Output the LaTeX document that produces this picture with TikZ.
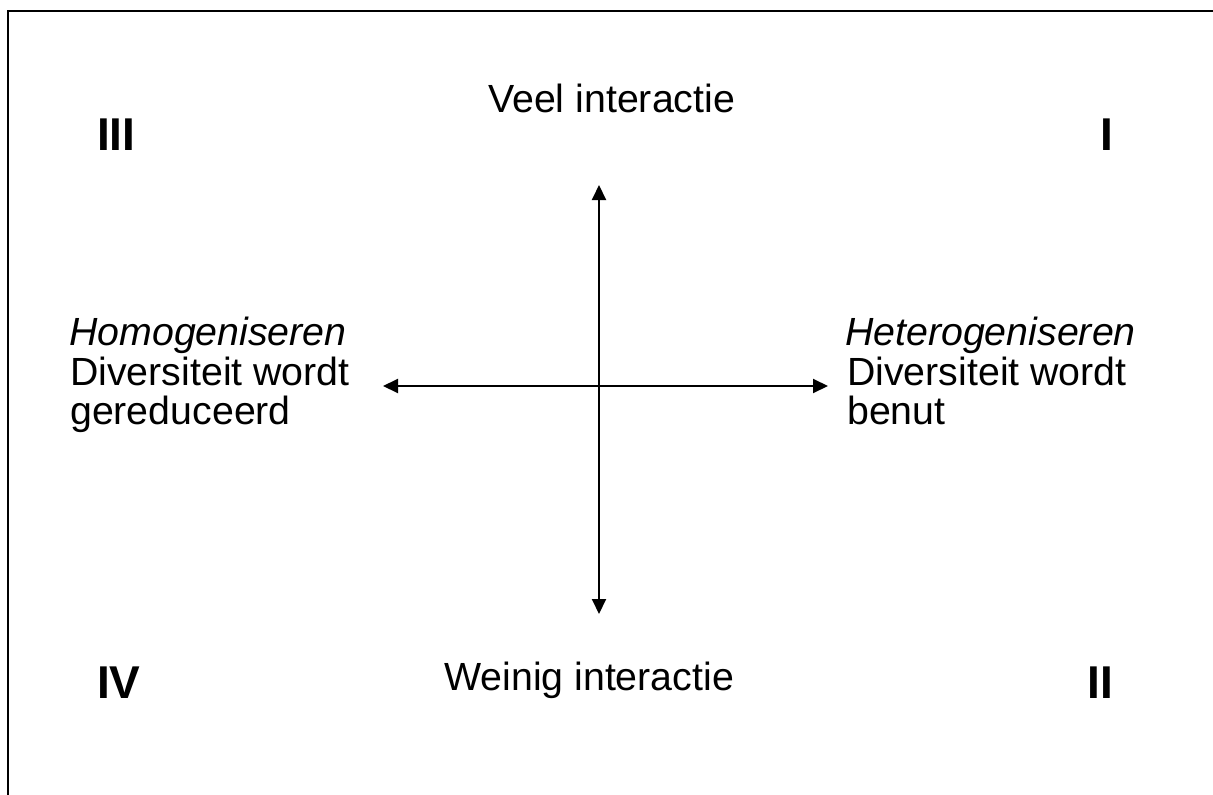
\documentclass[tikz,border=0pt]{standalone}
\usepackage{fontspec}
\setmainfont{Liberation Sans}
\usetikzlibrary{arrows.meta}
\begin{document}
\begin{tikzpicture}[x=1pt,y=-1pt,
  lbl/.style={inner sep=0pt,anchor=base west,font=\fontsize{39.3}{40}\selectfont},
  num/.style={inner sep=0pt,anchor=base west,font=\fontsize{46}{50}\selectfont\bfseries},
  axis/.style={line width=2pt,{Triangle[length=15pt,width=14pt]}-{Triangle[length=15pt,width=14pt]}},
  frameline/.style={line width=2pt}]
\useasboundingbox (0,0) rectangle (1213,795);
% frame (left and top only)
\coordinate (fbl) at (8,795);
\coordinate (ftl) at (8,11);
\coordinate (ftr) at (1213,11);
\draw[frameline] (fbl) -- (ftl) -- (ftr);
% axes
\coordinate (vtop) at (599,185);
\coordinate (vbot) at (599,614);
\coordinate (hleft) at (383,386);
\coordinate (hright) at (828,386);
\draw[axis] (vbot) -- (vtop);
\draw[axis] (hleft) -- (hright);
% labels
\node[lbl] (veel) at (488,112) {Veel interactie};
\node[lbl] (weinig) at (444,690) {Weinig interactie};
\node[lbl] (homT) at (69,345) {\itshape Homogeniseren};
\node[lbl] (homA) at (70,385) {Diversiteit wordt};
\node[lbl] (homB) at (70,424) {gereduceerd};
\node[lbl] (hetT) at (845,345) {\itshape Heterogeniseren};
\node[lbl] (hetA) at (847,385) {Diversiteit wordt};
\node[lbl] (hetB) at (847,424) {benut};
% quadrant numbers
\node[num] (qIII) at (97,150) {III};
\node[num] (qI) at (1100,150) {I};
\node[num] (qIV) at (97,698) {IV};
\node[num] (qII) at (1087,698) {II};
\end{tikzpicture}
\end{document}
